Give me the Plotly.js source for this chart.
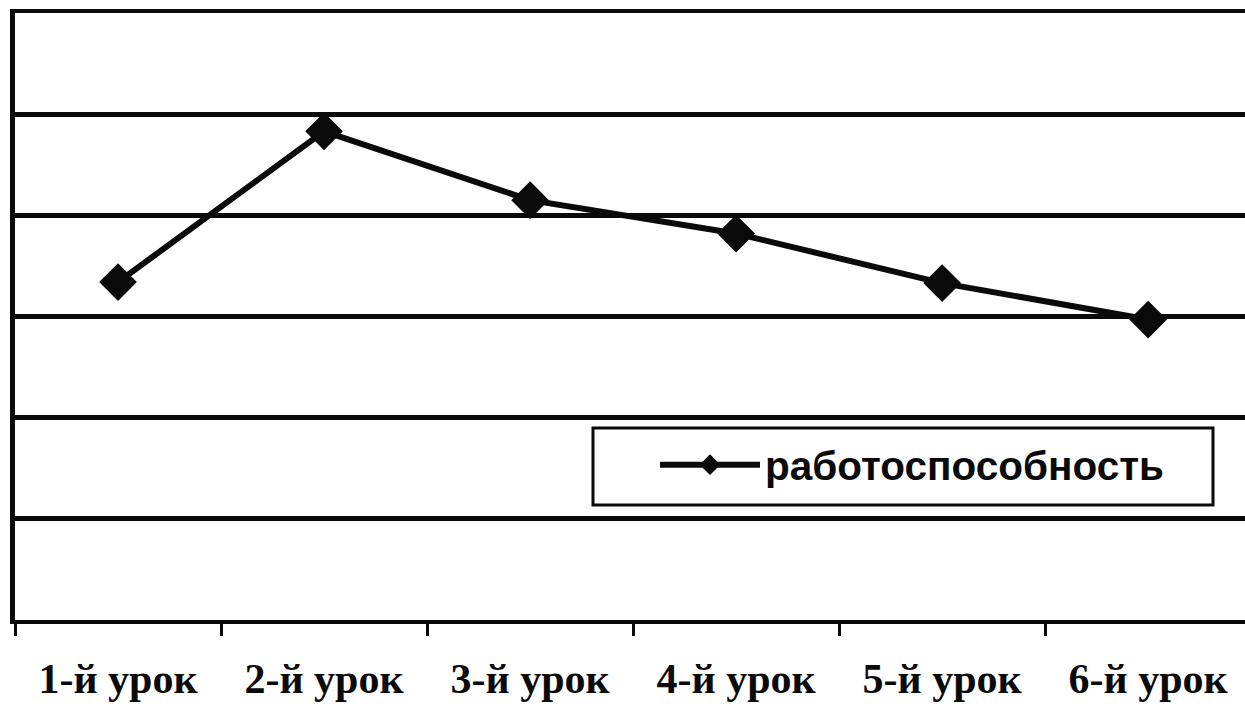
<!DOCTYPE html>
<html>
<head>
<meta charset="utf-8">
<script src="https://cdn.plot.ly/plotly-3.0.1.min.js"></script>
<style>html,body{margin:0;padding:0;background:#fff;}#chart{width:1245px;height:710px;}</style>
</head>
<body>
<div id="chart"></div>
<script>
const categories = ["1-й урок", "2-й урок", "3-й урок", "4-й урок", "5-й урок", "6-й урок"];
const values = [3.34, 4.83, 4.15, 3.82, 3.33, 2.97];
const seriesName = "работоспособность";

const ink = "#0a0a0a";

const trace = {
  type: "scatter",
  mode: "lines+markers",
  x: categories,
  y: values,
  name: seriesName,
  line: {color: ink, width: 6},
  marker: {symbol: "diamond", size: 29, color: ink},
  showlegend: true
};

const layout = {
  width: 1245,
  height: 710,
  margin: {l: 15, r: 0, t: 13, b: 90},
  paper_bgcolor: "#fff",
  plot_bgcolor: "#fff",
  showlegend: true,
  xaxis: {
    type: "category",
    range: [-0.5, 5.47],
    tickson: "boundaries",
    ticks: "outside",
    ticklen: 12,
    tickwidth: 3,
    tickcolor: ink,
    showline: true,
    linecolor: ink,
    linewidth: 4,
    mirror: true,
    showgrid: false,
    zeroline: false,
    ticklabelstandoff: 19,
    tickfont: {family: "Liberation Serif, Times New Roman, serif", size: 42, color: ink, weight: "bold"}
  },
  yaxis: {
    range: [0, 6],
    dtick: 1,
    tick0: 0,
    showticklabels: false,
    ticks: "",
    showgrid: true,
    gridcolor: ink,
    gridwidth: 5,
    showline: true,
    linecolor: ink,
    linewidth: 5,
    zeroline: false,
    fixedrange: true
  },
  legend: {
    x: (655 - 15) / 1230,
    y: 0.31,
    xanchor: "left",
    yanchor: "top",
    bgcolor: "rgba(0,0,0,0)",
    borderwidth: 0,
    itemwidth: 100,
    font: {family: "Liberation Sans, Arial, sans-serif", size: 40.5, color: ink, weight: "bold"}
  },
  shapes: [{
    type: "rect",
    xref: "paper", yref: "paper",
    x0: (593 - 15) / 1230, x1: (1213 - 15) / 1230,
    y0: (620 - 505) / 607, y1: (620 - 428) / 607,
    line: {color: ink, width: 3},
    fillcolor: "#fff",
    layer: "above"
  }]
};

Plotly.newPlot("chart", [trace], layout, {staticPlot: true, displayModeBar: false});
</script>
</body>
</html>
